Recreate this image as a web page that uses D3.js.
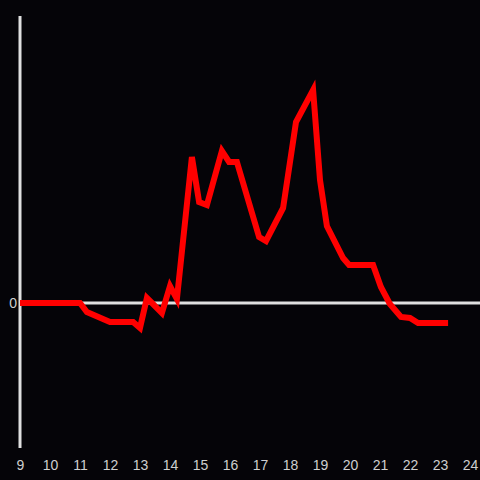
<!DOCTYPE html>
<html>
<head>
<meta charset="utf-8">
<script src="https://cdn.jsdelivr.net/npm/d3@7"></script>
<style>
  html, body { margin: 0; padding: 0; background: #050408; }
</style>
</head>
<body>
<div id="chart"></div>
<script>
// hour of day
var hours = [9.0, 11.0, 11.23, 12.0, 12.77, 13.0, 13.23, 13.4, 13.73, 14.0, 14.23,
  14.73, 14.97, 15.23, 15.73, 15.97, 16.23, 16.97, 17.2, 17.77, 18.2, 18.77,
  19.0, 19.23, 19.77, 19.97, 20.77, 21.03, 21.33, 21.7, 22.0, 22.27, 23.27];
var values = [0, 0, -0.09, -0.19, -0.19, -0.25, 0.05, 0.0, -0.1, 0.17, 0.04,
  1.46, 1.01, 0.98, 1.52, 1.41, 1.41, 0.66, 0.62, 0.95, 1.81, 2.13,
  1.23, 0.77, 0.45, 0.38, 0.38, 0.16, -0.01, -0.14, -0.15, -0.2, -0.2];
var xTicks = [9, 10, 11, 12, 13, 14, 15, 16, 17, 18, 19, 20, 21, 22, 23, 24];
var yTicks = [0];

var width = 480, height = 480;

var x = d3.scaleLinear().domain([9, 24]).range([20, 470]);
var y = d3.scaleLinear().domain([-1.45, 2.87]).range([448, 16]);

var svg = d3.select("#chart").append("svg")
  .attr("width", width)
  .attr("height", height)
  .style("background", "#050408")
  .style("font-family", "'Liberation Sans', Arial, sans-serif");

// y axis line
svg.append("line")
  .attr("x1", x(9)).attr("x2", x(9))
  .attr("y1", y(2.87)).attr("y2", y(-1.45))
  .attr("stroke", "#e0e0e0")
  .attr("stroke-width", 3);

// zero line
svg.append("line")
  .attr("x1", x(9)).attr("x2", width)
  .attr("y1", y(0)).attr("y2", y(0))
  .attr("stroke", "#e0e0e0")
  .attr("stroke-width", 3);

var xAxis = svg.append("g")
  .attr("transform", "translate(0," + 452 + ")")
  .call(d3.axisBottom(x).tickValues(xTicks).tickSize(0).tickPadding(8).tickFormat(d3.format("d")));
xAxis.select(".domain").remove();
xAxis.selectAll("text").attr("fill", "#cfcfcf").style("font-size", "14px");

var yAxis = svg.append("g")
  .attr("transform", "translate(" + 17 + ",0)")
  .call(d3.axisLeft(y).tickValues(yTicks).tickSize(0).tickPadding(0).tickFormat(d3.format("d")));
yAxis.select(".domain").remove();
yAxis.selectAll("text").attr("fill", "#cfcfcf").style("font-size", "14px");

var line = d3.line()
  .x(function(d, i) { return x(hours[i]); })
  .y(function(d) { return y(d); });

svg.append("path")
  .datum(values)
  .attr("fill", "none")
  .attr("stroke", "#ff0000")
  .attr("stroke-width", 6)
  .attr("stroke-linejoin", "miter")
  .attr("d", line);
</script>
</body>
</html>
